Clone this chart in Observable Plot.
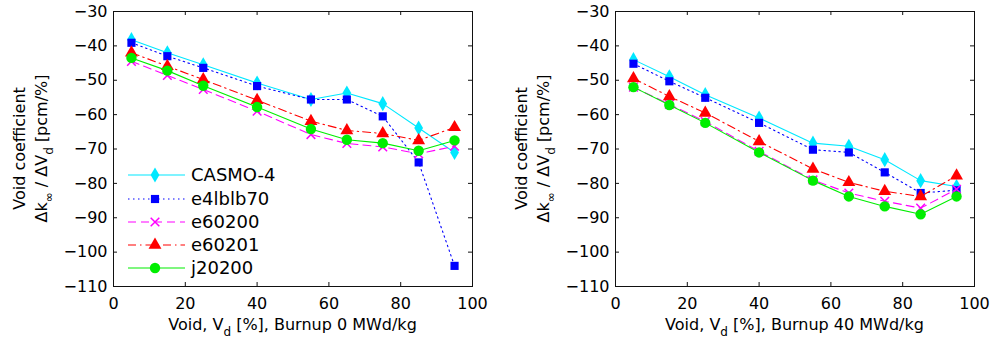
<!DOCTYPE html>
<html>
<head>
<meta charset="utf-8">
<script src="https://cdn.jsdelivr.net/npm/d3@7"></script>
<script src="https://cdn.jsdelivr.net/npm/@observablehq/plot@0.6"></script>
<style>
  html, body { margin: 0; padding: 0; background: #fff; }
  #wrap { display: flex; width: 993px; height: 345px; }
</style>
</head>
<body>
<div id="wrap"></div>
<script>
// ---- data ----
const voids = [5, 15, 25, 40, 55, 65, 75, 85, 95];
const seriesNames = ["CASMO-4", "e4lblb70", "e60200", "e60201", "j20200"];
const xTicks = [0, 20, 40, 60, 80, 100];
const yTicks = [-110, -100, -90, -80, -70, -60, -50, -40, -30];

// Burnup 0 MWd/kg
const casmo_0   = [-38.2, -42.0, -45.5, -50.8, -55.6, -53.7, -56.8, -63.9, -71.0];
const e4lblb70_0 = [-39.1, -43.0, -46.4, -51.7, -55.6, -55.6, -60.5, -73.9, -104.0];
const e60200_0  = [-44.5, -48.6, -52.7, -59.0, -65.8, -68.4, -69.4, -71.4, -69.2];
const e60201_0  = [-42.0, -45.9, -49.8, -55.8, -61.9, -64.6, -65.5, -67.5, -63.7];
const j20200_0  = [-43.5, -47.2, -51.6, -57.8, -64.2, -67.3, -68.3, -70.5, -67.5];

// Burnup 40 MWd/kg
const casmo_40   = [-44.0, -49.0, -54.2, -61.0, -68.3, -69.2, -73.1, -79.2, -80.9];
const e4lblb70_40 = [-45.2, -50.3, -55.1, -62.4, -70.2, -71.0, -76.8, -82.8, -82.0];
const e60200_40  = [-52.0, -57.0, -62.0, -70.7, -79.0, -82.8, -85.2, -87.2, -81.7];
const e60201_40  = [-49.5, -54.7, -59.5, -67.8, -75.8, -79.7, -82.3, -83.8, -77.8];
const j20200_40  = [-52.0, -57.2, -62.4, -71.0, -79.2, -83.8, -86.7, -89.0, -83.8];

// ---- styles per series ----
const styles = [
  {color: "#00e8ff", dash: null,          symbol: "diamond",  r: 4.6, filled: true},
  {color: "#0000ff", dash: "1.5,3.5",     symbol: "square",   r: 4.6, filled: true},
  {color: "#ff00ff", dash: "8,5",         symbol: "times",    r: 4,   filled: false},
  {color: "#ff0000", dash: "8,4,1.5,4",   symbol: "triangle", r: 4.8, filled: true},
  {color: "#00ee00", dash: null,          symbol: "circle",   r: 5.2, filled: true}
];
const d3Symbols = {
  diamond: d3.symbolDiamond, square: d3.symbolSquare, times: d3.symbolTimes,
  triangle: d3.symbolTriangle, circle: d3.symbolCircle
};

function panel({width, marginLeft, marginRight, values, burnup, legend}) {
  const marginTop = 11, marginBottom = 59, height = 345;
  const fw = width - marginLeft - marginRight;
  const fh = height - marginTop - marginBottom;
  const tick = 4;
  const marks = [
    Plot.frame({stroke: "#111", strokeWidth: 1}),
    Plot.tickX(xTicks, {x: d => d, stroke: "#111", insetBottom: fh - tick}),
    Plot.tickX(xTicks, {x: d => d, stroke: "#111", insetTop: fh - tick}),
    Plot.tickY(yTicks, {y: d => d, stroke: "#111", insetRight: fw - tick}),
    Plot.tickY(yTicks, {y: d => d, stroke: "#111", insetLeft: fw - tick})
  ];
  values.forEach((vals, i) => {
    const s = styles[i];
    const data = voids.map((v, j) => ({x: v, y: vals[j], series: seriesNames[i]}));
    marks.push(Plot.line(data, {x: "x", y: "y", stroke: s.color, strokeWidth: 1.1,
      strokeDasharray: s.dash ?? undefined}));
    marks.push(Plot.dot(data, s.filled
      ? {x: "x", y: "y", symbol: () => s.symbol, r: s.r, fill: s.color, stroke: "none"}
      : {x: "x", y: "y", symbol: () => s.symbol, r: s.r, stroke: s.color, strokeWidth: 1.5, fill: "none"}));
  });
  const svg = Plot.plot({
    width, height, marginLeft, marginRight, marginTop, marginBottom,
    style: {fontFamily: "DejaVu Sans, sans-serif", fontSize: "16px", background: "#fff", color: "#000", overflow: "visible"},
    x: {domain: [0, 100], ticks: xTicks, tickSize: 0, tickPadding: 11, label: null},
    y: {domain: [-110, -30], ticks: yTicks, tickSize: 0, tickPadding: 6, label: null},
    marks
  });
  const g = d3.select(svg);
  const ff = "DejaVu Sans, sans-serif";
  // x label
  const xl = g.append("text")
    .attr("x", marginLeft + fw / 2).attr("y", 330)
    .attr("text-anchor", "middle").attr("font-family", ff).attr("font-size", 16).attr("fill", "#000");
  xl.append("tspan").text("Void, V");
  xl.append("tspan").attr("dy", 6).attr("font-size", 12).text("d");
  xl.append("tspan").attr("dy", -6).text(` [%], Burnup ${burnup} MWd/kg`);
  // y label (two lines)
  const cy = marginTop + fh / 2;
  g.append("text")
    .attr("transform", `translate(${marginLeft - 88},${cy}) rotate(-90)`)
    .attr("text-anchor", "middle").attr("font-family", ff).attr("font-size", 16).attr("fill", "#000")
    .text("Void coefficient");
  const y2 = g.append("text")
    .attr("transform", `translate(${marginLeft - 66},${cy}) rotate(-90)`)
    .attr("text-anchor", "middle").attr("font-family", ff).attr("font-size", 16).attr("fill", "#000");
  y2.append("tspan").text("Δk");
  y2.append("tspan").attr("dy", 6).attr("font-size", 12).text("∞");
  y2.append("tspan").attr("dy", -6).text(" / ΔV");
  y2.append("tspan").attr("dy", 6).attr("font-size", 12).text("d");
  y2.append("tspan").attr("dy", -6).text(" [pcm/%]");
  // legend
  if (legend) {
    const x0 = marginLeft + 15, x1 = marginLeft + 72, xm = marginLeft + 42, xt = marginLeft + 78;
    const rows = [175, 199, 222, 245, 268];
    seriesNames.forEach((name, i) => {
      const s = styles[i], y = rows[i];
      g.append("line").attr("x1", x0).attr("x2", x1).attr("y1", y).attr("y2", y)
        .attr("stroke", s.color).attr("stroke-width", 1.1)
        .attr("stroke-dasharray", s.dash);
      const p = g.append("path")
        .attr("transform", `translate(${xm},${y})`)
        .attr("d", d3.symbol(d3Symbols[s.symbol], s.r * s.r * Math.PI)());
      if (s.filled) p.attr("fill", s.color);
      else p.attr("fill", "none").attr("stroke", s.color).attr("stroke-width", 1.5);
      g.append("text").attr("x", xt).attr("y", y).attr("dy", "0.36em")
        .attr("text-anchor", "start")
        .attr("font-family", ff).attr("font-size", 18).attr("fill", "#000").text(name);
    });
  }
  return svg;
}

const wrap = document.getElementById("wrap");
wrap.append(panel({
  width: 496, marginLeft: 113, marginRight: 24, burnup: 0, legend: true,
  values: [casmo_0, e4lblb70_0, e60200_0, e60201_0, j20200_0]
}));
wrap.append(panel({
  width: 497, marginLeft: 119, marginRight: 19, burnup: 40, legend: false,
  values: [casmo_40, e4lblb70_40, e60200_40, e60201_40, j20200_40]
}));
</script>
</body>
</html>
